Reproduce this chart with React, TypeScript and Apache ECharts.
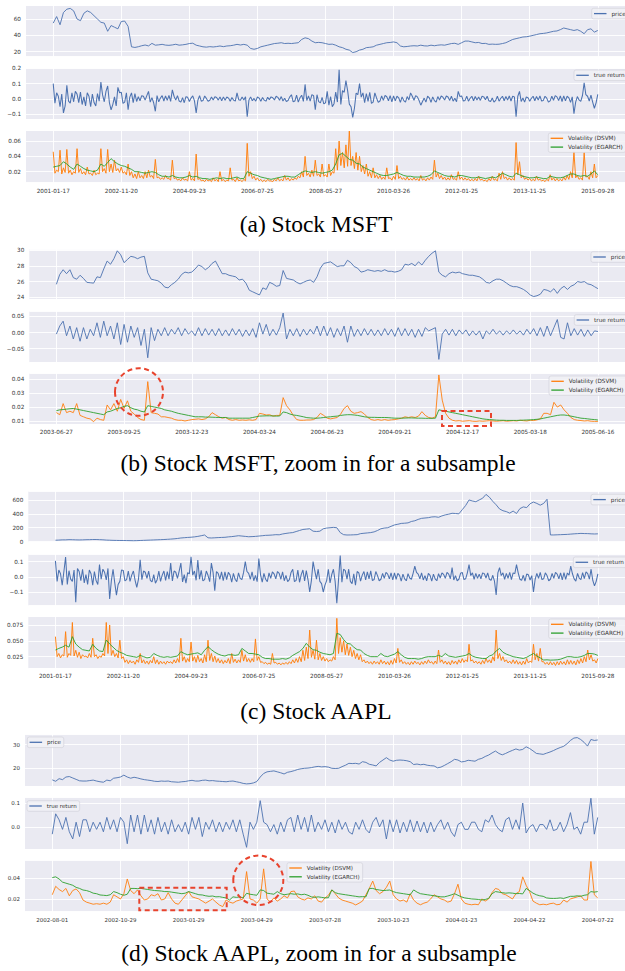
import React, { useEffect, useRef } from "react";
import * as echarts from "echarts";

// ---------- tick labels ----------
const TICKS_A = ["2001-01-17", "2002-11-20", "2004-09-23", "2006-07-25", "2008-05-27", "2010-03-26", "2012-01-25", "2013-11-25", "2015-09-28"];
const TICKS_B = ["2003-06-27", "2003-09-25", "2003-12-23", "2004-03-24", "2004-06-23", "2004-09-21", "2004-12-17", "2005-03-18", "2005-06-16"];
const TICKS_C = ["2001-01-17", "2002-11-20", "2004-09-23", "2006-07-25", "2008-05-27", "2010-03-26", "2012-01-25", "2013-11-25", "2015-09-28"];
const TICKS_D = ["2002-08-01", "2002-10-29", "2003-01-29", "2003-04-29", "2003-07-28", "2003-10-23", "2004-01-23", "2004-04-22", "2004-07-22"];

const CAPTIONS = [
  "(a) Stock MSFT",
  "(b) Stock MSFT, zoom in for a subsample",
  "(c) Stock AAPL",
  "(d) Stock AAPL, zoom in for a subsample",
];

// ---------- (a) MSFT full sample ----------
const A_PRICE = [
  55, 63, 53, 68, 72, 73, 70, 60, 58, 67,
  70, 68, 64, 60, 56, 55, 45, 52, 50, 48,
  57, 57.5, 51, 26, 25.2, 26.1, 27.3, 28.2, 27.1, 30.2,
  28, 28.4, 29, 28.1, 27.8, 28.3, 29.1, 28, 28.4, 29,
  30, 30.4, 28, 27, 26, 25.6, 26.2, 25.8, 26.3, 27,
  26.2, 27, 27.3, 28, 29, 28.2, 29, 28, 24, 23,
  24, 26, 27, 28, 29, 30, 30.4, 31, 30, 30.3,
  30, 30.5, 31, 35, 37, 36, 33, 31, 31.4, 31,
  30, 29, 29.3, 28, 26, 25, 23, 22, 19, 20,
  22, 23, 25, 25.4, 26, 28, 29, 30, 31, 31.3,
  32, 31, 27, 26, 26.4, 27, 27.3, 27, 28, 27.2,
  27, 28, 27.3, 28, 28.4, 28, 29, 30, 30.3, 29,
  31, 33, 33, 32, 31, 31.3, 30, 30.2, 29, 29.3,
  29, 29.2, 30, 31, 33, 35, 36, 37, 38, 38.3,
  39, 40, 41, 42, 42.4, 43, 44, 45, 45.4, 47,
  49, 48, 47, 46, 47, 45, 42, 47, 48, 44,
  46,
];
const A_RETURN = [
  0.1, -0.027, 0.041, 0.018, -0.05, 0.032, -0.09, -0.045, 0.09, -0.014,
  -0.027, 0.041, -0.018, 0.05, 0.032, -0.023, 0.045, -0.036, 0.014, -0.045,
  0.041, 0.018, -0.05, 0.032, -0.023, -0.045, 0.036, -0.014, 0.11, 0.027,
  -0.018, 0.05, 0.085, -0.023, -0.07, -0.036, 0.014, -0.045, 0.076, 0.041,
  0.044, -0.028, -0.02, 0.04, -0.07, 0.012, 0.04, -0.024, 0.036, -0.016,
  0.015, -0.011, 0.022, 0.018, -0.007, 0.022, 0.05, -0.02, 0.009, -0.024,
  -0.08, 0.022, -0.018, 0.007, 0.022, -0.013, 0.02, -0.009, 0.024, -0.015,
  0.06, 0.018, -0.007, 0.022, -0.013, -0.02, 0.009, -0.024, 0.015, 0.011,
  -0.016, 0.006, 0.02, -0.012, -0.09, -0.008, 0.022, -0.014, -0.01, 0.02,
  0.004, -0.014, -0.008, 0.013, -0.006, 0.015, 0.01, -0.007, 0.014, -0.011,
  0.014, -0.008, 0.013, 0.006, -0.015, 0.01, -0.007, -0.014, 0.04, -0.004,
  -0.008, 0.013, -0.006, 0.015, -0.115, -0.007, 0.014, -0.011, 0.004, -0.014,
  0.013, 0.006, -0.015, 0.01, -0.007, -0.014, 0.011, -0.004, 0.014, 0.008,
  -0.006, 0.018, 0.011, -0.008, 0.016, -0.013, 0.005, -0.016, -0.01, 0.014,
  0.028, -0.018, -0.013, 0.025, -0.02, 0.008, 0.025, -0.015, 0.095, -0.01,
  0.02, -0.014, 0.028, 0.022, -0.07, 0.028, -0.017, -0.025, 0.011, -0.031,
  -0.025, 0.05, -0.04, 0.015, -0.05, -0.03, 0.045, -0.02, 0.19, -0.035,
  0.055, 0.044, 0.12, 0.055, -0.033, -0.05, -0.12, -0.06, 0.039, 0.028,
  0.1, 0.012, 0.04, -0.024, 0.036, -0.016, 0.044, -0.028, -0.02, 0.04,
  0.007, -0.022, -0.013, 0.02, -0.009, 0.024, 0.015, -0.011, 0.022, -0.018,
  0.02, -0.012, 0.018, 0.008, -0.022, 0.014, -0.01, -0.02, 0.016, -0.006,
  0.04, 0.018, -0.008, 0.022, 0.014, -0.01, -0.04, -0.016, 0.006, -0.02,
  0.018, 0.008, -0.022, 0.014, -0.01, -0.02, 0.016, -0.006, 0.02, 0.012,
  -0.007, 0.02, 0.013, -0.009, 0.018, -0.014, 0.005, -0.018, 0.05, 0.016,
  0.02, -0.013, -0.009, 0.018, -0.014, 0.005, 0.018, -0.011, 0.016, -0.007,
  0.013, -0.009, 0.018, 0.014, -0.005, 0.018, -0.011, -0.016, 0.007, -0.02,
  -0.009, 0.018, -0.014, 0.005, 0.018, -0.011, 0.016, -0.007, 0.02, -0.013,
  0.018, 0.014, -0.115, 0.018, 0.05, -0.016, 0.007, -0.02, 0.013, 0.009,
  -0.014, 0.005, 0.018, -0.011, 0.016, -0.007, 0.02, -0.013, -0.009, 0.018,
  0.006, -0.02, -0.012, 0.018, -0.008, 0.022, 0.014, -0.01, 0.02, -0.016,
  0.02, -0.012, 0.018, 0.008, -0.022, 0.014, -0.095, -0.02, 0.016, -0.006,
  -0.015, 0.023, 0.105, 0.028, 0.018, -0.013, 0.025, -0.02, -0.06, -0.025,
  0.03,
];
const A_DSVM = [
  0.046, 0.018, 0.022, 0.02, 0.048, 0.017, 0.025, 0.019, 0.049, 0.018,
  0.022, 0.016, 0.02, 0.018, 0.05, 0.019, 0.024, 0.017, 0.02, 0.016,
  0.026, 0.017, 0.018, 0.015, 0.022, 0.016, 0.018, 0.017, 0.05, 0.02,
  0.024, 0.018, 0.049, 0.02, 0.03, 0.019, 0.035, 0.021, 0.024, 0.019,
  0.026, 0.018, 0.02, 0.016, 0.03, 0.015, 0.02, 0.012, 0.017, 0.011,
  0.02, 0.012, 0.015, 0.011, 0.02, 0.012, 0.022, 0.013, 0.015, 0.011,
  0.036, 0.012, 0.013, 0.01, 0.012, 0.01, 0.015, 0.011, 0.011, 0.009,
  0.035, 0.011, 0.012, 0.009, 0.01, 0.008, 0.012, 0.009, 0.01, 0.008,
  0.02, 0.009, 0.011, 0.008, 0.043, 0.01, 0.011, 0.008, 0.009, 0.007,
  0.01, 0.008, 0.009, 0.007, 0.012, 0.008, 0.01, 0.007, 0.02, 0.008,
  0.01, 0.007, 0.009, 0.008, 0.025, 0.009, 0.01, 0.007, 0.012, 0.008,
  0.009, 0.007, 0.01, 0.008, 0.057, 0.014, 0.02, 0.011, 0.014, 0.009,
  0.012, 0.008, 0.01, 0.007, 0.009, 0.007, 0.01, 0.008, 0.008, 0.007,
  0.01, 0.008, 0.012, 0.008, 0.01, 0.008, 0.015, 0.009, 0.012, 0.008,
  0.011, 0.009, 0.012, 0.01, 0.014, 0.012, 0.02, 0.013, 0.04, 0.015,
  0.018, 0.013, 0.022, 0.014, 0.035, 0.015, 0.017, 0.013, 0.03, 0.014,
  0.016, 0.013, 0.03, 0.015, 0.02, 0.018, 0.05, 0.022, 0.06, 0.028,
  0.045, 0.025, 0.055, 0.027, 0.073, 0.028, 0.04, 0.024, 0.045, 0.022,
  0.04, 0.02, 0.028, 0.017, 0.03, 0.014, 0.02, 0.012, 0.025, 0.012,
  0.016, 0.011, 0.015, 0.01, 0.013, 0.01, 0.025, 0.011, 0.012, 0.009,
  0.014, 0.01, 0.028, 0.011, 0.014, 0.01, 0.012, 0.009, 0.013, 0.009,
  0.011, 0.009, 0.012, 0.009, 0.011, 0.008, 0.015, 0.009, 0.011, 0.008,
  0.012, 0.009, 0.013, 0.01, 0.035, 0.013, 0.018, 0.011, 0.015, 0.01,
  0.013, 0.009, 0.012, 0.009, 0.016, 0.01, 0.011, 0.009, 0.02, 0.01,
  0.013, 0.009, 0.012, 0.009, 0.011, 0.008, 0.01, 0.008, 0.011, 0.008,
  0.014, 0.009, 0.01, 0.008, 0.009, 0.007, 0.011, 0.008, 0.014, 0.009,
  0.01, 0.008, 0.018, 0.01, 0.02, 0.011, 0.013, 0.009, 0.012, 0.009,
  0.011, 0.009, 0.058, 0.016, 0.033, 0.012, 0.015, 0.01, 0.012, 0.009,
  0.011, 0.008, 0.01, 0.008, 0.014, 0.009, 0.01, 0.008, 0.009, 0.007,
  0.01, 0.008, 0.016, 0.009, 0.012, 0.008, 0.011, 0.008, 0.01, 0.008,
  0.013, 0.009, 0.015, 0.01, 0.02, 0.012, 0.046, 0.012, 0.015, 0.01,
  0.012, 0.009, 0.045, 0.013, 0.014, 0.01, 0.02, 0.012, 0.03, 0.012,
  0.015,
];
const A_EGARCH = [
  0.026, 0.027, 0.028, 0.033, 0.03, 0.026, 0.023, 0.03, 0.027, 0.024,
  0.022, 0.021, 0.02, 0.022, 0.03, 0.027, 0.032, 0.037, 0.033, 0.03,
  0.028, 0.027, 0.025, 0.023, 0.02, 0.02, 0.019, 0.018, 0.019, 0.02,
  0.019, 0.016, 0.014, 0.014, 0.013, 0.015, 0.013, 0.012, 0.012, 0.013,
  0.015, 0.013, 0.014, 0.012, 0.011, 0.011, 0.01, 0.011, 0.012, 0.011,
  0.012, 0.011, 0.011, 0.012, 0.013, 0.011, 0.011, 0.02, 0.018, 0.016,
  0.015, 0.013, 0.012, 0.011, 0.01, 0.011, 0.012, 0.013, 0.014, 0.014,
  0.013, 0.013, 0.016, 0.019, 0.021, 0.02, 0.019, 0.02, 0.019, 0.018,
  0.019, 0.02, 0.022, 0.03, 0.042, 0.044, 0.04, 0.036, 0.035, 0.031,
  0.03, 0.026, 0.024, 0.022, 0.02, 0.018, 0.016, 0.015, 0.015, 0.016,
  0.017, 0.019, 0.017, 0.015, 0.014, 0.014, 0.013, 0.013, 0.013, 0.013,
  0.014, 0.016, 0.021, 0.019, 0.017, 0.015, 0.014, 0.014, 0.013, 0.015,
  0.015, 0.014, 0.013, 0.012, 0.012, 0.013, 0.012, 0.011, 0.012, 0.013,
  0.012, 0.015, 0.018, 0.016, 0.014, 0.013, 0.018, 0.016, 0.014, 0.013,
  0.012, 0.012, 0.013, 0.012, 0.011, 0.011, 0.014, 0.013, 0.012, 0.012,
  0.013, 0.015, 0.017, 0.017, 0.015, 0.014, 0.015, 0.014, 0.017, 0.021,
  0.016,
];

// ---------- (b) MSFT subsample ----------
const B_PRICE = [
  25.65, 26.9, 27.5, 27.0, 27.5, 26.5, 26.3, 26.8, 26.4, 25.9,
  25.85, 25.8, 26.6, 26.5, 27.6, 28.6, 28.2, 28.9, 29.9, 29.4,
  28.4, 28.8, 29.2, 29.1, 28.9, 29.1, 29.2, 27.1, 26.3, 26.2,
  26.1, 25.8, 25.3, 25.2, 25.6, 25.9, 26.3, 26.9, 27.2, 27.1,
  27.2, 27.6, 28.1, 27.9, 27.5, 27.8, 28.3, 28.6, 27.8, 27.0,
  27.0, 26.8, 26.7, 26.6, 26.2, 26.3, 25.8, 24.9, 24.7, 24.5,
  24.3, 25.2, 25.0, 25.9, 25.7, 25.4, 25.5, 27.4, 26.4, 26.3,
  26.2, 25.9, 25.7, 25.9, 26.1, 26.2, 25.9, 26.6, 27.7, 28.3,
  28.4, 28.5, 28.2, 27.9, 28.0, 28.0, 28.7, 28.4, 27.9, 27.7,
  27.2, 27.3, 27.5, 27.4, 27.3, 27.4, 27.3, 27.5, 27.3, 27.3,
  27.2, 27.3, 27.5, 28.2, 28.1, 28.3, 28.0, 28.5, 28.1, 28.7,
  29.2, 29.6, 29.9, 27.2, 26.8, 26.6, 27.0, 27.2, 27.1, 27.2,
  27.0, 26.9, 26.8, 26.8, 26.7, 26.6, 26.3, 25.9, 25.8, 26.1,
  26.3, 26.3, 26.1, 25.8, 25.5, 25.35, 25.35, 25.2, 25.0, 24.7,
  24.3, 24.1, 24.2, 24.4, 25.0, 24.9, 24.7, 25.1, 24.5, 25.1,
  25.4, 25.0, 25.4, 25.6, 26.0, 25.9, 26.0, 25.7, 25.6, 25.35,
  25.1,
];
const B_RETURN = [
  -0.005, 0.02, 0.035, -0.01, 0.02, -0.02, 0.015, -0.027, 0.015, -0.02,
  0.01, -0.01, 0.03, -0.015, 0.035, -0.01, 0.02, -0.02, 0.03, -0.037,
  0.025, -0.03, 0.02, -0.015, 0.015, -0.04, 0.01, -0.078, 0.015, -0.025,
  0.01, -0.01, 0.015, -0.01, 0.01, -0.005, 0.015, -0.01, 0.012, -0.005,
  0.005, -0.01, 0.015, -0.01, 0.012, -0.008, 0.01, -0.01, 0.012, -0.01,
  0.008, -0.01, 0.012, -0.008, 0.01, -0.012, 0.008, -0.01, 0.012, -0.015,
  0.03, -0.005, 0.025, -0.01, 0.01, -0.008, 0.015, 0.06, -0.02, 0.01,
  -0.01, 0.012, -0.012, 0.01, -0.008, 0.01, -0.005, 0.02, -0.01, 0.02,
  -0.01, 0.015, -0.015, 0.012, -0.01, 0.02, -0.03, 0.02, -0.012, 0.01,
  -0.01, 0.012, -0.008, 0.01, -0.01, 0.008, -0.01, 0.012, -0.008, 0.01,
  -0.012, 0.015, -0.01, 0.012, -0.01, 0.01, -0.015, 0.01, -0.012, 0.015,
  0.005, 0.01, 0.015, -0.083, -0.005, 0.01, -0.008, 0.01, -0.01, 0.008,
  -0.005, 0.008, -0.01, 0.005, -0.008, 0.005, -0.02, 0.005, -0.005, 0.01,
  -0.005, 0.005, -0.008, 0.005, -0.005, 0.008, -0.005, 0.005, -0.008, 0.01,
  -0.005, 0.012, -0.01, 0.015, -0.012, 0.02, -0.01, 0.015, 0.04, -0.015,
  -0.02, 0.03, -0.01, 0.012, -0.008, 0.01, -0.012, 0.008, -0.01, 0.005,
  0.003,
];
const B_DSVM = [
  0.016, 0.0145, 0.0225, 0.016, 0.017, 0.016, 0.0225, 0.014, 0.013, 0.012,
  0.0115, 0.0095, 0.012, 0.011, 0.0105, 0.0215, 0.018, 0.0225, 0.017, 0.0255,
  0.019, 0.0245, 0.017, 0.015, 0.0125, 0.011, 0.0105, 0.0383, 0.016, 0.0155,
  0.015, 0.013, 0.013, 0.0125, 0.012, 0.011, 0.0105, 0.0105, 0.01, 0.0105,
  0.011, 0.0112, 0.0115, 0.011, 0.0115, 0.013, 0.016, 0.0145, 0.013, 0.012,
  0.0125, 0.011, 0.0105, 0.011, 0.0105, 0.0107, 0.0105, 0.0108, 0.0105, 0.011,
  0.0155, 0.015, 0.0143, 0.0145, 0.0135, 0.014, 0.014, 0.0268, 0.021, 0.018,
  0.014, 0.011, 0.0105, 0.0105, 0.0107, 0.0107, 0.011, 0.0125, 0.0155, 0.014,
  0.012, 0.0115, 0.012, 0.0125, 0.015, 0.019, 0.021, 0.017, 0.0155, 0.016,
  0.0167, 0.015, 0.0125, 0.011, 0.0105, 0.011, 0.0105, 0.011, 0.0105, 0.0108,
  0.011, 0.0115, 0.012, 0.013, 0.0125, 0.013, 0.0125, 0.0135, 0.0167, 0.014,
  0.0125, 0.012, 0.013, 0.0431, 0.025, 0.0155, 0.012, 0.0105, 0.01, 0.0102,
  0.0098, 0.01, 0.0102, 0.0098, 0.0097, 0.01, 0.0098, 0.01, 0.0102, 0.01,
  0.0098, 0.01, 0.0102, 0.0098, 0.01, 0.0102, 0.01, 0.0105, 0.0102, 0.01,
  0.0105, 0.0103, 0.0108, 0.0115, 0.0155, 0.0155, 0.0145, 0.0234, 0.02, 0.0215,
  0.018, 0.0155, 0.0125, 0.011, 0.0105, 0.0103, 0.01, 0.0102, 0.0098, 0.0097,
  0.0097,
];
const B_EGARCH = [
  0.0174, 0.018, 0.0182, 0.0185, 0.0188, 0.019, 0.0185, 0.018, 0.0175, 0.017,
  0.0165, 0.016, 0.0155, 0.015, 0.0145, 0.0165, 0.017, 0.018, 0.019, 0.0195,
  0.0205, 0.021, 0.0195, 0.0185, 0.018, 0.017, 0.0165, 0.021, 0.0205, 0.02,
  0.0195, 0.019, 0.018, 0.0175, 0.017, 0.0162, 0.0155, 0.015, 0.0145, 0.014,
  0.0135, 0.013, 0.013, 0.013, 0.0128, 0.0128, 0.0127, 0.0126, 0.0125, 0.0125,
  0.0125, 0.012, 0.012, 0.012, 0.012, 0.012, 0.012, 0.012, 0.0125, 0.013,
  0.0135, 0.0136, 0.0137, 0.0137, 0.0136, 0.0135, 0.0136, 0.0165, 0.016, 0.015,
  0.0143, 0.014, 0.0135, 0.013, 0.0124, 0.0122, 0.012, 0.012, 0.0122, 0.0125,
  0.0128, 0.013, 0.0133, 0.0135, 0.014, 0.0143, 0.0145, 0.0145, 0.0143, 0.014,
  0.0135, 0.013, 0.0127, 0.0126, 0.0126, 0.0125, 0.0125, 0.0125, 0.0124, 0.0122,
  0.012, 0.012, 0.012, 0.0121, 0.0122, 0.0122, 0.0121, 0.012, 0.012, 0.0119,
  0.0119, 0.0119, 0.012, 0.018, 0.0175, 0.017, 0.0165, 0.016, 0.0155, 0.015,
  0.0145, 0.014, 0.0135, 0.013, 0.0125, 0.012, 0.0115, 0.0112, 0.011, 0.0108,
  0.0106, 0.0105, 0.0105, 0.0104, 0.0104, 0.0104, 0.0104, 0.0105, 0.0106, 0.0107,
  0.0108, 0.011, 0.0112, 0.0115, 0.012, 0.0125, 0.013, 0.0135, 0.014, 0.0143,
  0.0143, 0.014, 0.0135, 0.013, 0.0125, 0.012, 0.0118, 0.0115, 0.0112, 0.011,
  0.0107,
];

// ---------- (c) AAPL full sample ----------
const C_PRICE = [
  20, 22, 25, 25, 28, 27, 25, 24, 25, 27,
  28, 30, 30, 28, 26, 22, 20, 18, 17, 16,
  16, 15, 14, 13, 14, 16, 18, 20, 22, 24,
  26, 28, 30, 33, 36, 40, 45, 52, 56, 60,
  63, 68, 75, 85, 95, 55, 52, 55, 58, 60,
  62, 68, 72, 78, 85, 80, 75, 70, 72, 75,
  80, 85, 90, 92, 95, 100, 98, 110, 118, 125,
  130, 145, 160, 175, 180, 185, 150, 145, 150, 185,
  195, 200, 205, 200, 130, 100, 95, 96, 98, 100,
  115, 120, 125, 130, 140, 160, 185, 195, 200, 220,
  240, 250, 262, 265, 270, 290, 300, 320, 335, 340,
  345, 355, 358, 350, 370, 385, 395, 408, 405, 400,
  460, 520, 600, 585, 575, 600, 625, 680, 640, 580,
  530, 470, 445, 432, 410, 440, 405, 475, 500, 490,
  545, 570, 550, 525, 550, 610, 96, 96, 98, 100,
  102, 104, 108, 112, 115, 118, 116, 115, 112, 110,
  112,
];
const C_RETURN = [
  0.105, -0.03, 0.045, 0.02, -0.055, 0.035, 0.13, -0.05, 0.04, -0.015,
  -0.03, 0.045, -0.167, 0.055, 0.035, -0.025, 0.05, -0.04, 0.015, -0.05,
  0.045, 0.02, -0.055, 0.035, -0.025, -0.05, 0.08, -0.015, 0.05, 0.03,
  -0.02, 0.055, -0.145, -0.025, 0.05, -0.04, -0.12, -0.05, -0.03, 0.045,
  0.042, -0.027, -0.019, 0.038, -0.03, 0.011, 0.038, -0.023, -0.07, -0.015,
  0.112, -0.019, 0.038, 0.03, -0.011, 0.038, -0.023, -0.034, 0.015, -0.042,
  -0.019, 0.038, -0.03, 0.011, 0.038, -0.023, 0.034, -0.015, 0.09, -0.027,
  0.038, 0.03, -0.011, 0.038, 0.09, -0.034, 0.015, -0.042, 0.027, 0.019,
  0.132, 0.011, 0.038, -0.023, 0.11, -0.015, 0.042, -0.027, -0.019, 0.038,
  0.01, -0.032, 0.09, 0.029, -0.092, 0.035, 0.022, -0.016, 0.032, -0.026,
  0.032, -0.019, 0.029, 0.013, -0.035, 0.022, -0.016, -0.032, 0.026, -0.01,
  -0.019, 0.029, 0.1, 0.035, 0.022, -0.016, 0.032, -0.026, 0.01, -0.032,
  0.12, 0.013, -0.035, 0.022, -0.016, -0.032, 0.026, -0.01, 0.032, 0.019,
  -0.013, 0.035, 0.022, -0.016, 0.032, -0.026, 0.01, -0.032, -0.019, 0.029,
  0.05, -0.032, -0.023, 0.045, -0.036, 0.014, 0.045, -0.027, 0.041, -0.018,
  -0.1, -0.025, 0.1, 0.04, -0.015, 0.05, -0.03, -0.045, -0.1, -0.055,
  -0.025, 0.05, -0.04, 0.015, 0.05, -0.03, -0.174, -0.02, 0.14, -0.035,
  0.05, 0.04, -0.015, 0.05, -0.03, -0.045, 0.02, -0.055, 0.035, 0.025,
  -0.028, 0.011, 0.035, -0.021, 0.032, -0.014, 0.039, -0.025, -0.018, 0.035,
  0.008, -0.026, -0.016, 0.023, -0.01, 0.029, 0.018, -0.013, 0.026, -0.021,
  0.026, -0.016, 0.023, 0.01, -0.029, 0.018, -0.013, -0.026, 0.021, -0.008,
  -0.016, 0.023, 0.07, 0.029, 0.018, -0.013, 0.026, -0.021, 0.008, -0.026,
  0.023, 0.01, -0.029, 0.018, -0.013, -0.026, 0.021, -0.008, 0.026, 0.016,
  -0.01, 0.029, 0.018, -0.013, 0.06, -0.021, 0.008, -0.026, -0.016, 0.023,
  0.029, -0.018, -0.013, 0.026, 0.08, 0.008, 0.026, -0.016, 0.023, -0.01,
  0.018, -0.013, 0.026, 0.021, -0.008, 0.026, -0.016, -0.023, 0.01, -0.029,
  -0.12, 0.026, 0.06, 0.008, 0.026, -0.016, 0.023, -0.01, 0.029, -0.018,
  0.026, 0.021, 0.08, 0.026, -0.016, -0.023, 0.01, -0.029, 0.018, 0.013,
  -0.021, 0.008, -0.1, -0.016, 0.023, -0.01, 0.029, -0.018, -0.013, 0.026,
  0.008, -0.026, -0.016, 0.023, -0.01, 0.029, 0.018, -0.013, 0.026, -0.021,
  0.028, -0.017, 0.025, 0.011, 0.07, 0.02, -0.014, -0.028, 0.022, -0.008,
  -0.018, 0.027, -0.012, 0.033, 0.021, -0.015, 0.05, -0.024, -0.06, -0.03,
  0.02,
];
const C_DSVM = [
  0.0566, 0.025, 0.03, 0.023, 0.028, 0.026, 0.0645, 0.024, 0.03, 0.027,
  0.079, 0.026, 0.035, 0.024, 0.032, 0.022, 0.028, 0.025, 0.026, 0.023,
  0.03, 0.024, 0.054, 0.025, 0.028, 0.022, 0.026, 0.024, 0.03, 0.026,
  0.079, 0.03, 0.075, 0.027, 0.035, 0.025, 0.03, 0.023, 0.051, 0.022,
  0.025, 0.016, 0.02, 0.014, 0.019, 0.015, 0.018, 0.013, 0.02, 0.016,
  0.03, 0.015, 0.02, 0.014, 0.018, 0.013, 0.019, 0.015, 0.025, 0.014,
  0.02, 0.013, 0.018, 0.014, 0.017, 0.013, 0.018, 0.015, 0.017, 0.014,
  0.02, 0.015, 0.022, 0.016, 0.054, 0.018, 0.025, 0.016, 0.022, 0.017,
  0.048, 0.018, 0.025, 0.016, 0.027, 0.017, 0.022, 0.015, 0.028, 0.017,
  0.051, 0.019, 0.03, 0.017, 0.026, 0.016, 0.022, 0.015, 0.02, 0.014,
  0.019, 0.015, 0.022, 0.014, 0.03, 0.016, 0.021, 0.015, 0.02, 0.016,
  0.035, 0.018, 0.028, 0.017, 0.022, 0.016, 0.022, 0.017, 0.053, 0.019,
  0.025, 0.016, 0.017, 0.014, 0.016, 0.013, 0.015, 0.013, 0.03, 0.015,
  0.016, 0.013, 0.015, 0.012, 0.015, 0.013, 0.016, 0.013, 0.017, 0.014,
  0.02, 0.015, 0.022, 0.016, 0.025, 0.017, 0.035, 0.019, 0.04, 0.022,
  0.067, 0.024, 0.035, 0.021, 0.051, 0.02, 0.03, 0.019, 0.025, 0.018,
  0.022, 0.017, 0.02, 0.018, 0.025, 0.02, 0.0855, 0.03, 0.055, 0.032,
  0.05, 0.028, 0.045, 0.027, 0.04, 0.025, 0.035, 0.022, 0.03, 0.02,
  0.028, 0.017, 0.02, 0.015, 0.018, 0.014, 0.017, 0.013, 0.018, 0.014,
  0.017, 0.013, 0.02, 0.014, 0.018, 0.013, 0.017, 0.012, 0.019, 0.013,
  0.022, 0.015, 0.038, 0.016, 0.02, 0.014, 0.017, 0.013, 0.016, 0.012,
  0.017, 0.013, 0.018, 0.014, 0.016, 0.012, 0.017, 0.013, 0.018, 0.014,
  0.02, 0.015, 0.017, 0.013, 0.018, 0.014, 0.0355, 0.016, 0.02, 0.014,
  0.018, 0.013, 0.017, 0.012, 0.019, 0.014, 0.018, 0.013, 0.02, 0.015,
  0.022, 0.016, 0.02, 0.017, 0.0445, 0.018, 0.02, 0.015, 0.018, 0.014,
  0.017, 0.013, 0.019, 0.014, 0.022, 0.016, 0.02, 0.015, 0.025, 0.018,
  0.067, 0.022, 0.03, 0.019, 0.025, 0.017, 0.02, 0.015, 0.018, 0.014,
  0.02, 0.014, 0.019, 0.013, 0.017, 0.012, 0.018, 0.013, 0.022, 0.015,
  0.018, 0.016, 0.0445, 0.02, 0.03, 0.018, 0.038, 0.017, 0.017, 0.013,
  0.016, 0.012, 0.017, 0.012, 0.016, 0.011, 0.017, 0.012, 0.018, 0.013,
  0.017, 0.012, 0.02, 0.013, 0.019, 0.013, 0.018, 0.012, 0.02, 0.014,
  0.022, 0.015, 0.025, 0.017, 0.0355, 0.02, 0.028, 0.018, 0.02, 0.015,
  0.022,
];
const C_EGARCH = [
  0.0355, 0.038, 0.04, 0.043, 0.04, 0.0566, 0.045, 0.04, 0.036, 0.035,
  0.034, 0.0445, 0.038, 0.034, 0.033, 0.0513, 0.045, 0.04, 0.035, 0.032,
  0.03, 0.027, 0.026, 0.025, 0.024, 0.027, 0.025, 0.023, 0.024, 0.03,
  0.027, 0.025, 0.024, 0.025, 0.024, 0.025, 0.026, 0.033, 0.03, 0.028,
  0.029, 0.03, 0.031, 0.028, 0.035, 0.0408, 0.036, 0.032, 0.029, 0.027,
  0.026, 0.028, 0.028, 0.027, 0.028, 0.038, 0.034, 0.03, 0.03, 0.029,
  0.028, 0.024, 0.022, 0.022, 0.021, 0.021, 0.021, 0.022, 0.021, 0.023,
  0.027, 0.03, 0.033, 0.038, 0.046, 0.04, 0.036, 0.035, 0.032, 0.03,
  0.029, 0.028, 0.03, 0.0618, 0.06, 0.052, 0.046, 0.045, 0.04, 0.036,
  0.0355, 0.03, 0.027, 0.025, 0.025, 0.025, 0.03, 0.026, 0.025, 0.027,
  0.029, 0.033, 0.028, 0.024, 0.022, 0.022, 0.022, 0.021, 0.022, 0.024,
  0.025, 0.025, 0.025, 0.027, 0.025, 0.03, 0.026, 0.025, 0.024, 0.025,
  0.026, 0.027, 0.03, 0.026, 0.024, 0.023, 0.022, 0.022, 0.026, 0.028,
  0.034, 0.038, 0.032, 0.029, 0.027, 0.025, 0.024, 0.023, 0.022, 0.024,
  0.027, 0.03, 0.026, 0.023, 0.0197, 0.02, 0.0195, 0.0197, 0.02, 0.021,
  0.023, 0.025, 0.025, 0.024, 0.024, 0.025, 0.027, 0.03, 0.03, 0.029,
  0.027,
];

// ---------- (d) AAPL subsample ----------
const D_PRICE = [
  15.1, 14.5, 15.6, 15.2, 16.3, 16.5, 15.9, 15.3, 14.7, 14.6,
  14.6, 14.8, 15.0, 14.6, 14.3, 14.1, 15.0, 14.7, 15.8, 16.0,
  16.3, 17.1, 16.3, 15.8, 16.2, 15.9, 15.5, 15.2, 15.0, 14.8,
  14.5, 14.4, 14.6, 14.5, 14.6, 14.3, 14.2, 14.1, 14.3, 14.4,
  14.7, 14.9, 14.6, 14.6, 14.9, 15.0, 14.7, 14.8, 14.6, 14.5,
  14.4, 14.3, 14.5, 14.6, 14.3, 14.0, 13.6, 13.4, 13.5, 13.8,
  14.4, 16.3, 17.8, 18.5, 18.7, 18.9, 18.5, 18.1, 17.6, 18.3,
  18.6, 19.0, 19.5, 19.8, 20.0, 20.1, 20.3, 20.6, 20.8, 20.6,
  20.7, 20.5, 20.0, 19.9, 20.0, 20.7, 21.3, 22.1, 22.0, 22.1,
  21.8, 22.8, 22.5, 21.7, 21.4, 21.0, 22.5, 23.5, 24.5, 23.5,
  23.0, 23.4, 23.5, 23.4, 23.2, 22.8, 21.6, 21.8, 21.5, 21.7,
  21.3, 21.1, 21.0, 20.2, 20.5, 21.2, 22.0, 22.8, 23.8, 23.5,
  22.7, 22.9, 23.4, 23.2, 23.0, 23.8, 24.2, 25.0, 25.6, 26.5,
  27.3, 26.3, 25.7, 26.3, 27.0, 27.6, 28.2, 27.7, 28.0, 29.1,
  28.4, 27.4, 26.3, 26.1, 25.9, 26.4, 26.9, 27.5, 28.2, 28.8,
  29.3, 30.4, 31.8, 32.8, 33.0, 32.2, 31.0, 29.4, 32.2, 31.8,
  32.0,
];
const D_RETURN = [
  -0.03, 0.055, 0.03, -0.01, 0.04, -0.02, -0.05, 0.02, -0.04, 0.03,
  0.03, -0.02, 0.02, -0.01, 0.02, -0.02, 0.04, -0.01, 0.03, -0.02,
  0.04, 0.02, -0.07, 0.05, -0.02, 0.05, -0.03, 0.05, -0.02, 0.03,
  -0.03, 0.04, -0.02, 0.02, -0.03, 0.03, -0.02, 0.01, -0.02, 0.02,
  -0.03, 0.04, -0.01, 0.04, -0.04, 0.02, -0.01, 0.03, -0.02, 0.02,
  -0.02, 0.02, -0.01, 0.03, -0.02, 0.03, -0.03, -0.085, 0.02, -0.01,
  0.02, 0.11, 0.02, 0.01, -0.02, 0.01, -0.03, 0.02, -0.02, 0.03,
  0.04, -0.02, 0.05, -0.01, 0.04, -0.02, 0.05, -0.02, 0.02, -0.01,
  0.03, -0.02, 0.02, -0.025, 0.03, -0.01, 0.02, -0.02, -0.03, 0.02,
  -0.01, 0.03, -0.01, -0.025, 0.02, 0.04, 0.0, 0.03, -0.05, 0.03,
  -0.02, 0.03, -0.025, 0.02, -0.02, 0.03, -0.02, 0.025, -0.02, 0.02,
  -0.025, 0.02, -0.02, 0.01, 0.03, -0.01, 0.02, -0.02, -0.04, 0.01,
  0.02, -0.01, -0.01, 0.02, 0.02, -0.01, -0.02, 0.03, 0.02, 0.05,
  0.01, -0.01, -0.02, 0.03, 0.04, -0.01, 0.03, -0.01, 0.1, -0.025,
  0.0, 0.01, -0.02, 0.01, 0.01, -0.01, 0.03, -0.015, -0.01, 0.02,
  -0.02, 0.01, 0.06, -0.01, 0.0, -0.03, 0.02, 0.02, 0.12, -0.03,
  0.04,
];
const D_DSVM = [
  0.024, 0.032, 0.029, 0.027, 0.03, 0.023, 0.028, 0.0295, 0.026, 0.019,
  0.017, 0.016, 0.015, 0.0155, 0.015, 0.016, 0.015, 0.017, 0.024, 0.022,
  0.02, 0.025, 0.039, 0.028, 0.025, 0.0286, 0.023, 0.019, 0.02, 0.024,
  0.023, 0.025, 0.019, 0.02, 0.026, 0.02, 0.016, 0.015, 0.019, 0.023,
  0.027, 0.022, 0.021, 0.02, 0.018, 0.016, 0.018, 0.02, 0.017, 0.0143,
  0.0127, 0.019, 0.017, 0.016, 0.018, 0.019, 0.02, 0.046, 0.02, 0.019,
  0.016, 0.02, 0.0486, 0.02, 0.017, 0.021, 0.018, 0.02, 0.023, 0.021,
  0.027, 0.0275, 0.022, 0.02, 0.019, 0.021, 0.02, 0.023, 0.018, 0.017,
  0.021, 0.0235, 0.0286, 0.025, 0.021, 0.019, 0.018, 0.017, 0.016, 0.0143,
  0.016, 0.018, 0.024, 0.03, 0.037, 0.028, 0.025, 0.027, 0.031, 0.037,
  0.024, 0.02, 0.018, 0.019, 0.017, 0.025, 0.019, 0.016, 0.0145, 0.016,
  0.017, 0.02, 0.024, 0.022, 0.02, 0.019, 0.017, 0.018, 0.025, 0.034,
  0.02, 0.016, 0.015, 0.0145, 0.015, 0.0145, 0.02, 0.018, 0.02, 0.026,
  0.03, 0.029, 0.025, 0.024, 0.022, 0.02, 0.025, 0.027, 0.041, 0.033,
  0.027, 0.018, 0.016, 0.0145, 0.015, 0.0145, 0.0155, 0.016, 0.0145, 0.015,
  0.019, 0.017, 0.02, 0.021, 0.022, 0.023, 0.019, 0.019, 0.0556, 0.024,
  0.021,
];
const D_EGARCH = [
  0.0403, 0.041, 0.039, 0.036, 0.035, 0.034, 0.033, 0.031, 0.03, 0.0285,
  0.028, 0.027, 0.0255, 0.025, 0.0238, 0.0235, 0.0232, 0.024, 0.027, 0.026,
  0.0245, 0.0235, 0.0245, 0.03, 0.03, 0.0298, 0.03, 0.0295, 0.029, 0.0285,
  0.028, 0.0278, 0.0275, 0.027, 0.027, 0.0265, 0.026, 0.0255, 0.025, 0.0255,
  0.027, 0.026, 0.025, 0.024, 0.0238, 0.023, 0.0225, 0.0228, 0.022, 0.0222,
  0.0215, 0.021, 0.019, 0.022, 0.0215, 0.022, 0.021, 0.0254, 0.0245, 0.024,
  0.0235, 0.0286, 0.028, 0.0255, 0.025, 0.0245, 0.027, 0.025, 0.024, 0.0245,
  0.025, 0.0245, 0.0248, 0.024, 0.0245, 0.0235, 0.022, 0.0215, 0.022, 0.0215,
  0.021, 0.0212, 0.0286, 0.026, 0.025, 0.0245, 0.024, 0.0235, 0.023, 0.0225,
  0.022, 0.0222, 0.022, 0.03, 0.03, 0.029, 0.0285, 0.028, 0.0282, 0.0285,
  0.027, 0.026, 0.0255, 0.025, 0.0245, 0.024, 0.0286, 0.0265, 0.025, 0.0245,
  0.024, 0.0235, 0.023, 0.0225, 0.022, 0.022, 0.0228, 0.0238, 0.025, 0.0235,
  0.022, 0.021, 0.0205, 0.02, 0.0198, 0.0195, 0.019, 0.0195, 0.0205, 0.025,
  0.027, 0.0265, 0.026, 0.0255, 0.0258, 0.0255, 0.025, 0.0252, 0.0248, 0.03,
  0.028, 0.0255, 0.024, 0.023, 0.0225, 0.021, 0.0206, 0.0205, 0.0206, 0.021,
  0.0205, 0.0215, 0.0225, 0.0225, 0.023, 0.0225, 0.0235, 0.024, 0.027, 0.0265,
  0.027,
];

// ---------- styling / layout (kept separate from data) ----------
const BLUE = "#4c72b0";
const ORANGE = "#ff7f0e";
const GREEN = "#2ca02c";
const PANEL_BG = "#eaeaf2";
const TEXT = "#333333";
const RED = "#e8432d";
const STEPS = 8;
const BASE_TICK = 20;
const BASE_PAD = 8;

const NAMES = ["price", "true return", "Volatility (DSVM)", "Volatility (EGARCH)"];

type YSpec = { min: number; max: number; step: number; dec: number };
type PanelSpec = {
  res: number;
  left: number;
  width: number;
  tops: number[];
  heights: number[];
  ticks: string[];
  series: number[][];
  y: YSpec[];
  legends: number[][];
  font: number;
};

const PANELS: PanelSpec[] = [
  {
    res: 2, left: 26, width: 604.5, tops: [5.7, 68.3, 130.7], heights: [51, 51, 52],
    ticks: TICKS_A, series: [A_PRICE, A_RETURN, A_DSVM, A_EGARCH],
    y: [
      { min: 13.9, max: 76.3, step: 20, dec: 0 },
      { min: -0.132, max: 0.2, step: 0.1, dec: 1 },
      { min: 0.0056, max: 0.0735, step: 0.02, dec: 2 },
    ],
    legends: [[591.7, 8.3], [574, 70], [548.3, 133]], font: 5.7,
  },
  {
    res: 1, left: 29.3, width: 598, tops: [249, 311, 373.3], heights: [50.3, 51.3, 51],
    ticks: TICKS_B, series: [B_PRICE, B_RETURN, B_DSVM, B_EGARCH],
    y: [
      { min: 23.75, max: 30.13, step: 2, dec: 0 },
      { min: -0.092, max: 0.0664, step: 0.05, dec: 2 },
      { min: 0.0076, max: 0.0443, step: 0.01, dec: 2 },
    ],
    legends: [[591, 251.7], [574.3, 314.7], [549, 376]], font: 5.7,
  },
  {
    res: 2, left: 28.3, width: 602.8, tops: [491, 554, 616.7], heights: [51.3, 51.7, 51.6],
    ticks: TICKS_C, series: [C_PRICE, C_RETURN, C_DSVM, C_EGARCH],
    y: [
      { min: -10, max: 729, step: 200, dec: 0 },
      { min: -0.19, max: 0.15, step: 0.1, dec: 1 },
      { min: 0.0066, max: 0.0881, step: 0.025, dec: 3 },
    ],
    legends: [[591, 494.3], [573.3, 557], [548.7, 619]], font: 5.7,
  },
  {
    res: 1, left: 25, width: 602, tops: [734.3, 797.3, 860], heights: [51.7, 51.7, 51.7],
    ticks: TICKS_D, series: [D_PRICE, D_RETURN, D_DSVM, D_EGARCH],
    y: [
      { min: 12.5, max: 34.4, step: 10, dec: 0 },
      { min: -0.092, max: 0.124, step: 0.1, dec: 1 },
      { min: 0.0079, max: 0.057, step: 0.02, dec: 2 },
    ],
    legends: [[27.3, 737], [27, 800.7], [287, 862.7]], font: 5.5,
  },
];

const CAPTION_POS = [[316, 224], [318, 463], [316, 711], [319, 953]];

const fmtY = (step: number, dec: number) => (v: number) => {
  const r = v / step;
  if (Math.abs(r - Math.round(r)) > 1e-6) return "";
  const a = Math.abs(v) < 1e-12 ? 0 : v;
  const s = Math.abs(a).toFixed(dec);
  return a < 0 ? "\u2212" + s : s;
};

function buildOption() {
  const grid: any[] = [];
  const xAxis: any[] = [];
  const yAxis: any[] = [];
  const series: any[] = [];
  const legend: any[] = [];

  PANELS.forEach((p, pi) => {
    const tickEvery = BASE_TICK * p.res;
    const pad = BASE_PAD * p.res;
    const span = STEPS * tickEvery;
    const cats = Array.from({ length: span + 2 * pad + 1 }, (_, k) => String(k - pad));
    const isTick = (v: string) => {
      const k = Number(v);
      return k >= 0 && k <= span && k % tickEvery === 0;
    };
    const toPairs = (arr: number[]) => {
      const f = span / (arr.length - 1);
      return arr.map((v, i) => [Math.round(i * f) + pad, v]);
    };

    for (let s = 0; s < 3; s++) {
      const gi = pi * 3 + s;
      const ys = p.y[s];
      grid.push({
        left: p.left, top: p.tops[s], width: p.width, height: p.heights[s],
        show: true, backgroundColor: PANEL_BG, borderWidth: 0, containLabel: false,
      });
      xAxis.push({
        type: "category", gridIndex: gi, data: cats, boundaryGap: false,
        axisLine: { show: false }, axisTick: { show: false },
        axisLabel: {
          show: s === 2,
          interval: (_i: number, v: string) => isTick(v),
          formatter: (v: string) => (isTick(v) ? p.ticks[Number(v) / tickEvery] : ""),
          fontSize: p.font, color: TEXT, margin: 5, fontFamily: "DejaVu Sans",
        },
        splitLine: {
          show: true,
          interval: (_i: number, v: string) => isTick(v),
          lineStyle: { color: "#ffffff", width: 0.9 },
        },
      });
      yAxis.push({
        type: "value", gridIndex: gi, min: ys.min, max: ys.max,
        splitNumber: Math.round((ys.max - ys.min) / ys.step),
        minInterval: ys.step, maxInterval: ys.step,
        axisLine: { show: false }, axisTick: { show: false },
        axisLabel: { formatter: fmtY(ys.step, ys.dec), fontSize: p.font, color: TEXT, margin: 5, fontFamily: "DejaVu Sans" },
        splitLine: { show: true, lineStyle: { color: "#ffffff", width: 0.9 } },
      });
    }
    const g0 = pi * 3;
    const mk = (name: string, data: number[], gi: number, color: string, width: number) => ({
      type: "line", name, xAxisIndex: gi, yAxisIndex: gi, data: toPairs(data),
      showSymbol: false, symbol: "none", silent: true,
      lineStyle: { width, color }, itemStyle: { color },
    });
    series.push(mk(NAMES[0], p.series[0], g0, BLUE, 0.9));
    series.push(mk(NAMES[1], p.series[1], g0 + 1, BLUE, p.res > 1 ? 1.05 : 0.9));
    series.push(mk(NAMES[2], p.series[2], g0 + 2, ORANGE, p.res > 1 ? 0.95 : 0.9));
    series.push(mk(NAMES[3], p.series[3], g0 + 2, GREEN, 0.9));

    const legItems = [[NAMES[0]], [NAMES[1]], [NAMES[2], NAMES[3]]];
    legItems.forEach((items, li) => {
      legend.push({
        show: true, data: items, left: p.legends[li][0], top: p.legends[li][1],
        orient: "vertical", icon: "rect", itemWidth: 12.5, itemHeight: 1.3, itemGap: 1.8,
        padding: [1.8, 3, 1.8, 2.3],
        backgroundColor: "rgba(241,241,246,0.85)", borderColor: "#cfcfd6", borderWidth: 0.6, borderRadius: 2,
        selectedMode: false,
        textStyle: { fontSize: p.font, color: TEXT, fontFamily: "DejaVu Sans", lineHeight: 7 },
      });
    });
  });

  const graphic: any[] = [];
  CAPTIONS.forEach((t, i) => {
    graphic.push({
      type: "text", x: CAPTION_POS[i][0], y: CAPTION_POS[i][1], z: 100,
      style: { text: t, fontSize: 23.5, fontFamily: "Liberation Serif", fill: "#000", align: "center", verticalAlign: "middle" },
    });
  });
  const dash = { fill: "none", stroke: RED, lineWidth: 2, lineDash: [5, 3.5] };
  graphic.push({ type: "ellipse", z: 100, shape: { cx: 139, cy: 392, rx: 24, ry: 23.7 }, style: dash });
  graphic.push({ type: "rect", z: 100, shape: { x: 442, y: 411, width: 49, height: 15 }, style: dash });
  graphic.push({ type: "ellipse", z: 100, shape: { cx: 258.3, cy: 880.3, rx: 25, ry: 24.7 }, style: dash });
  graphic.push({ type: "rect", z: 100, shape: { x: 139.3, y: 887.7, width: 87.4, height: 22.6 }, style: dash });

  return {
    animation: false,
    backgroundColor: "#ffffff",
    textStyle: { fontFamily: "DejaVu Sans" },
    grid, xAxis, yAxis, series, legend, graphic,
  };
}

export default function App() {
  const ref = useRef<HTMLDivElement>(null);
  useEffect(() => {
    if (!ref.current) return;
    const chart = echarts.init(ref.current, null, { renderer: "svg", width: 625, height: 971 });
    chart.setOption(buildOption() as any);
    return () => chart.dispose();
  }, []);
  return (
    <div
      ref={ref}
      style={{ position: "fixed", left: 0, top: 0, width: 625, height: 971, background: "#fff", overflow: "hidden" }}
    />
  );
}
